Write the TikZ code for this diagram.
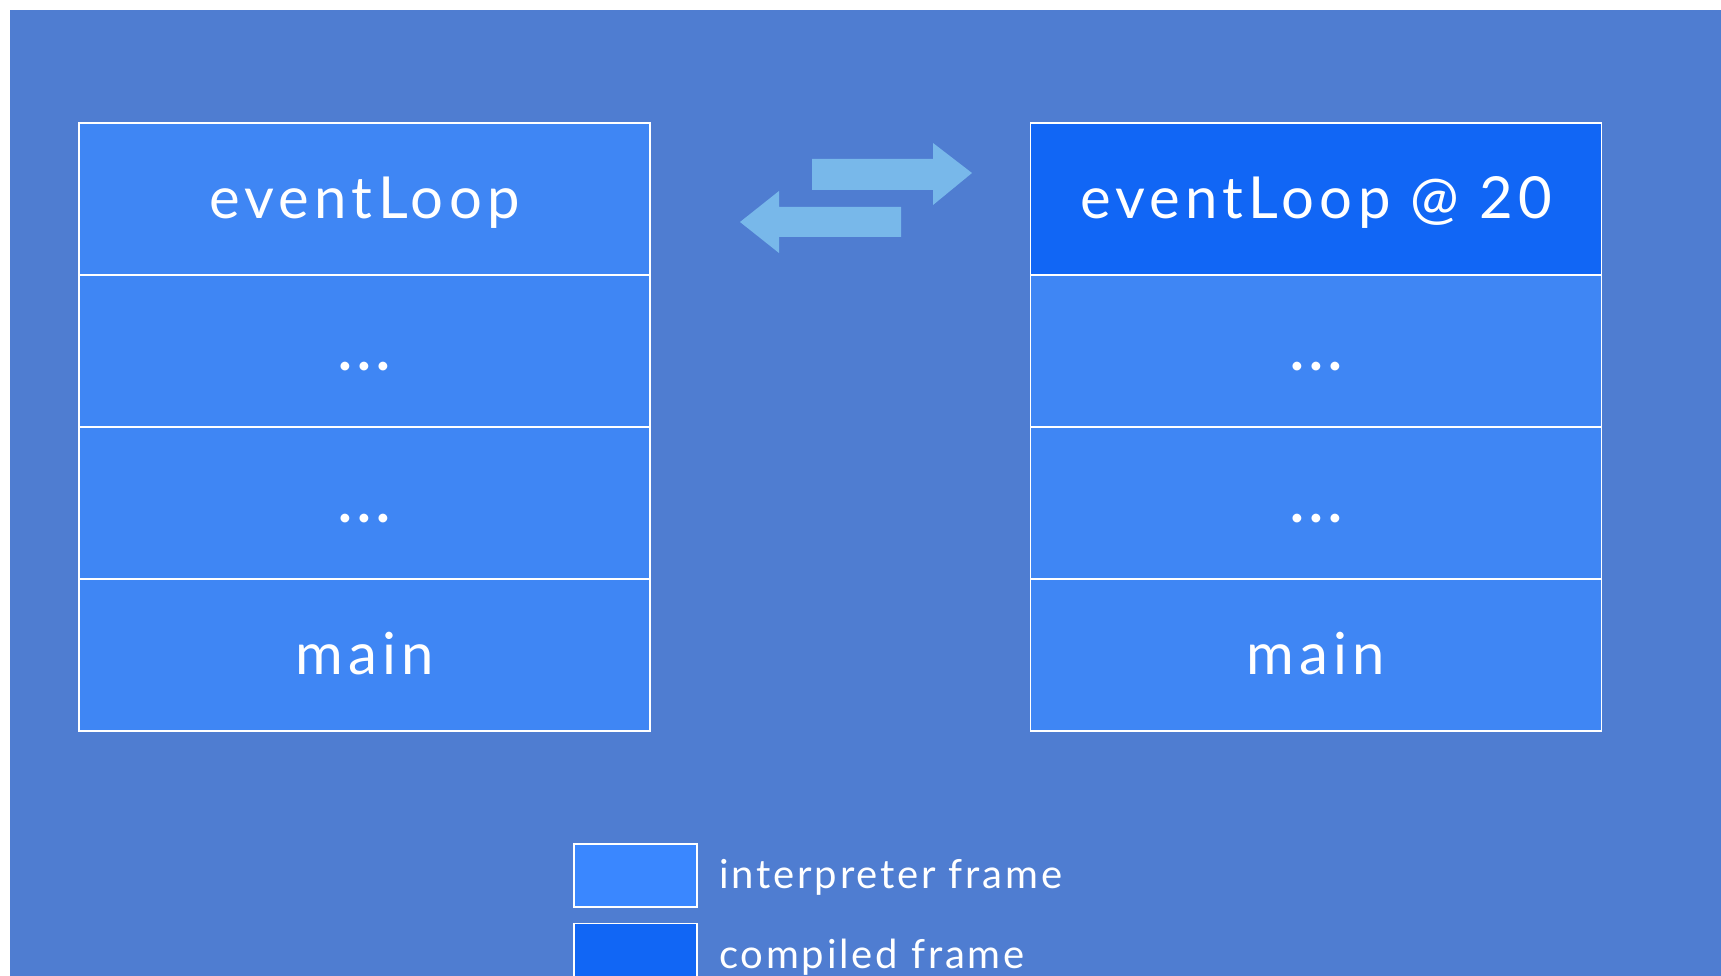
\documentclass[tikz,border=0pt]{standalone}
\usepackage{fontspec}
\setmainfont{Lato}
\newfontfamily\cellfont[LetterSpace=9]{Lato}
\newfontfamily\keyfont[LetterSpace=7]{Lato}
\definecolor{slide}{RGB}{79,125,209}
\definecolor{interp}{RGB}{63,134,244}
\definecolor{interpkey}{RGB}{58,135,255}
\definecolor{compiled}{RGB}{17,102,245}
\definecolor{swap}{RGB}{120,184,234}
\tikzset{
  cell/.style={draw=white, line width=1.2pt, fill=interp, minimum width=571pt,
    minimum height=152pt, inner sep=0pt, text=white, text height=41pt, text depth=2pt,
    font=\cellfont\fontsize{58}{62}\selectfont},
  jitcell/.style={cell, fill=compiled},
  keybox/.style={draw=white, line width=1.2pt, minimum width=123pt, minimum height=63pt, inner sep=0pt},
  keytext/.style={anchor=base west, text=white, font=\keyfont\fontsize{40}{44}\selectfont, inner sep=0pt},
  swaparrow/.style={fill=swap, draw=none}
}
\begin{document}
\begin{tikzpicture}[x=1pt, y=-1pt]
  \useasboundingbox (0,0) rectangle (1721,976);
  \fill[white] (0,0) rectangle (1721,976);
  \fill[slide] (10,10) rectangle (1721,976);

  % interpreter-only stack
  \node[cell] (L1) at (364.5,199) {eventLoop};
  \node[cell] (L2) at (364.5,351) {\bfseries...};
  \node[cell] (L3) at (364.5,503) {\bfseries...};
  \node[cell] (L4) at (364.5,655) {main};

  % stack after on-stack replacement
  \node[jitcell] (R1) at (1316,199) {eventLoop @ 20};
  \node[cell] (R2) at (1316,351) {\bfseries...};
  \node[cell] (R3) at (1316,503) {\bfseries...};
  \node[cell] (R4) at (1316,655) {main};

  % exchange arrows between the two stacks
  \fill[swaparrow] (812,159) -- (933,159) -- (933,143) -- (972,173) -- (933,205)
    -- (933,190) -- (812,190) -- cycle;
  \fill[swaparrow] (901,207) -- (779,207) -- (779,191) -- (740,222) -- (779,253)
    -- (779,237) -- (901,237) -- cycle;

  % legend
  \node[keybox, fill=interpkey] (kI) at (635.5,875.5) {};
  \node[keybox, fill=compiled] (kC) at (635.5,955) {};
  \node[keytext] (tI) at (719,888) {interpreter frame};
  \node[keytext] (tC) at (719,968) {compiled frame};
\end{tikzpicture}
\end{document}
